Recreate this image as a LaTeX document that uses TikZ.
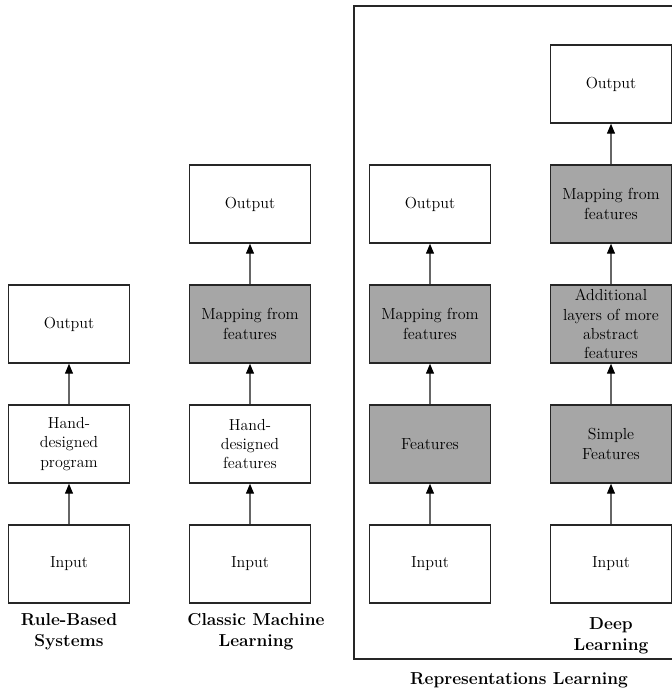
\documentclass[tikz,border=0pt]{standalone}
\usetikzlibrary{arrows.meta}
\definecolor{boxgray}{gray}{0.65}
\begin{document}
\begin{tikzpicture}[x=0.75pt,y=-0.75pt,
  box/.style={draw=black!85,line width=1.1pt,minimum width=90.75pt,minimum height=58.5pt,
    inner sep=0pt,align=center,font=\fontsize{12}{14.4}\selectfont},
  shaded/.style={box,fill=boxgray},
  flow/.style={draw=black!60,line width=0.9pt,-{Triangle[length=7.5pt,width=6pt,color=black]}},
  caption/.style={align=center,font=\fontsize{13}{16}\selectfont\bfseries}]
\useasboundingbox (0,0) rectangle (672,694);
\clip (0,0) rectangle (672,694);

% representation learning frame
\draw[line width=1.1pt,black!85] (354,6) rectangle (690,659);

% rule-based systems
\node[box] (a1) at (69,564) {Input};
\node[box] (a2) at (69,444) {Hand-\\designed\\program};
\node[box] (a3) at (69,324) {Output};
\node[caption] (ca) at (69,632) {Rule-Based\\Systems};

% classic machine learning
\node[box] (b1) at (250,564) {Input};
\node[box] (b2) at (250,444) {Hand-\\designed\\features};
\node[shaded] (b3) at (250,324) {Mapping from\\features};
\node[box] (b4) at (250,204) {Output};
\node[caption] (cb) at (256,632) {Classic Machine\\Learning};

% representation learning
\node[box] (c1) at (430,564) {Input};
\node[shaded] (c2) at (430,444) {Features};
\node[shaded] (c3) at (430,324) {Mapping from\\features};
\node[box] (c4) at (430,204) {Output};

% deep learning
\node[box] (d1) at (611,564) {Input};
\node[shaded] (d2) at (611,444) {Simple\\Features};
\node[shaded] (d3) at (611,324) {Additional\\layers of more\\abstract\\features};
\node[shaded] (d4) at (611,204) {Mapping from\\features};
\node[box] (d5) at (611,84) {Output};
\node[caption] (cd) at (611,636) {Deep\\Learning};

\node[caption] (cr) at (519,680) {Representations Learning};

\foreach \lo/\hi in {a1/a2,a2/a3,b1/b2,b2/b3,b3/b4,c1/c2,c2/c3,c3/c4,d1/d2,d2/d3,d3/d4,d4/d5}
  \draw[flow] (\lo.north) -- (\hi.south);
\end{tikzpicture}
\end{document}
